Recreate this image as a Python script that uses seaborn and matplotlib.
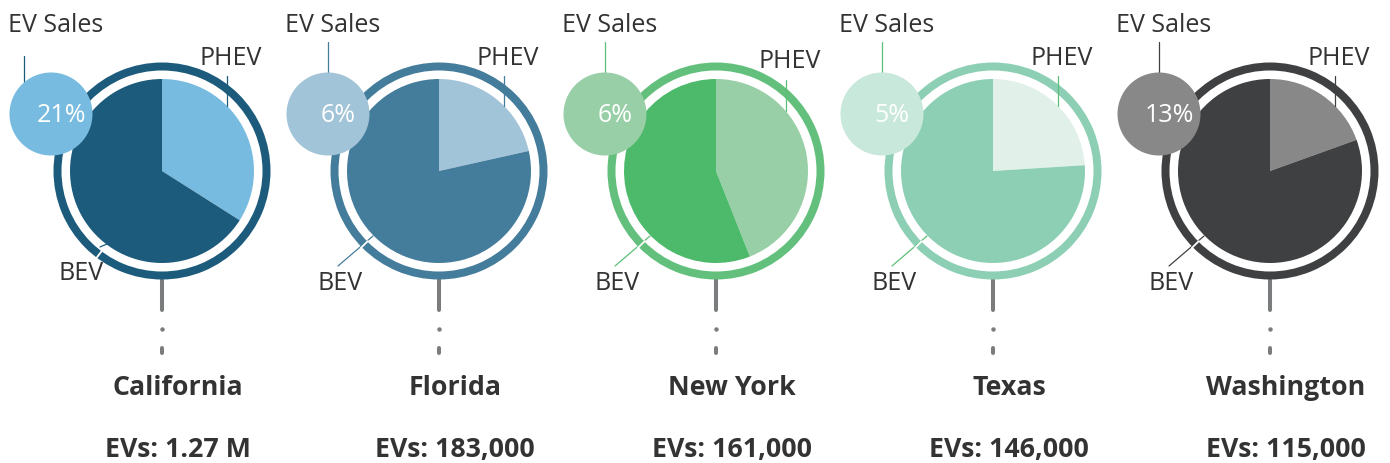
import matplotlib
matplotlib.use("Agg")
import numpy as np
import matplotlib.pyplot as plt
from matplotlib.patches import Circle
import seaborn as sns

# data
states = ["California", "Florida", "New York", "Texas", "Washington"]
phev_share = [34.0, 21.5, 44.0, 24.0, 19.5]
bev_share = [66.0, 78.5, 56.0, 76.0, 80.5]
ev_sales_pct = [21, 6, 6, 5, 13]
ev_totals = ["1.27 M", "183,000", "161,000", "146,000", "115,000"]

# colours per state
bev_col = ["#1c5b7b", "#447c9b", "#4dba6b", "#8ccfb4", "#3f4042"]
phev_col = ["#78bbe0", "#a2c4d8", "#98cfa7", "#e1f1ea", "#888888"]
ring_col = ["#1c5b7b", "#447c9b", "#62c07c", "#8ccfb4", "#3f4042"]
bubble_col = ["#78bbe0", "#a2c4d8", "#98cfa7", "#c8e8db", "#888888"]
line_col = ["#1c5b7b", "#447c9b", "#5cbf78", "#5cbf78", "#3f4042"]

sns.set_theme(style="white")
plt.rcParams['font.family'] = ['Open Sans', 'DejaVu Sans']
txt = "#333333"
stem = "#7a7c7e"

fig = plt.figure(figsize=(13.9, 4.64), dpi=100)

R_PIE = 92
R_RING = 108.5
BX, BY, BR = -111, 57, 41.5

for i, state in enumerate(states):
    cx = 162 + 277 * i
    ax = fig.add_axes([(cx - 139) / 1390, 0, 278 / 1390, 1])
    ax.pie([phev_share[i], bev_share[i]], colors=[phev_col[i], bev_col[i]],
           radius=R_PIE, startangle=90, counterclock=False,
           wedgeprops=dict(linewidth=0, zorder=2))
    ax.pie([1], colors=[ring_col[i]], radius=R_RING,
           wedgeprops=dict(width=8, linewidth=0, zorder=2))
    ax.set_xlim(-139, 139)
    ax.set_ylim(-292, 172)
    ax.axis('off')

    # EV sales bubble
    ax.add_patch(Circle((BX, BY), BR, color=bubble_col[i], lw=0, zorder=6, clip_on=False))
    ax.text(BX + 10, 50, f"{ev_sales_pct[i]}%", color="white", fontsize=18,
            ha="center", va="baseline", zorder=7, clip_on=False)
    if i == 0:
        lx = -138
        ax.plot([lx, lx], [BY + np.sqrt(BR**2 - (lx - BX)**2), 115], color=line_col[i],
                lw=0.9, zorder=5, clip_on=False)
    else:
        ax.plot([BX, BX], [BY + BR, 129], color=line_col[i], lw=0.9, zorder=5, clip_on=False)
    ax.text(BX + 5, 140, "EV Sales", color=txt, fontsize=18, ha="center", va="baseline",
            clip_on=False)

    # PHEV label
    px = 70 if i == 2 else 65
    ptop = 91 if i == 2 else 95
    ax.plot([px, px], [np.sqrt(R_PIE**2 - px**2), ptop], color=line_col[i], lw=0.9, zorder=4)
    ax.text(px + 4, 104 if i == 2 else 107, "PHEV", color=txt, fontsize=18,
            ha="center", va="baseline")

    # BEV label
    if i == 0:
        p0, p1, bt = (-55, -73), (-62, -76), (-81, -108)
    else:
        p0, p1, bt = (-66, -65), (-101, -95), (-99, -118)
    ax.plot([p0[0], p1[0]], [p0[1], p1[1]], color=line_col[i], lw=0.9, zorder=4)
    ang = np.arctan2(p0[1], p0[0])
    ax.plot([100 * np.cos(ang), 109.5 * np.cos(ang)], [100 * np.sin(ang), 109.5 * np.sin(ang)],
            color="white", lw=1.3, zorder=4)
    ax.text(bt[0], bt[1], "BEV", color=txt, fontsize=18, ha="center", va="baseline")

    # stem below the ring
    ax.plot([0, 0], [-104, -139], color=stem, lw=2.9, solid_capstyle="round", zorder=1)
    ax.plot([0], [-158], marker="o", ms=3.2, color=stem, mec="none", clip_on=False)
    ax.plot([0, 0], [-177, -182], color=stem, lw=2.9, solid_capstyle="round", clip_on=False)

    ax.text(16, -223, state, color=txt, fontsize=19.3, fontweight="bold",
            ha="center", va="baseline", clip_on=False)
    ax.text(16, -285, f"EVs: {ev_totals[i]}", color=txt, fontsize=19.3, fontweight="bold",
            ha="center", va="baseline", clip_on=False)

fig.savefig("out.png", dpi=100)
